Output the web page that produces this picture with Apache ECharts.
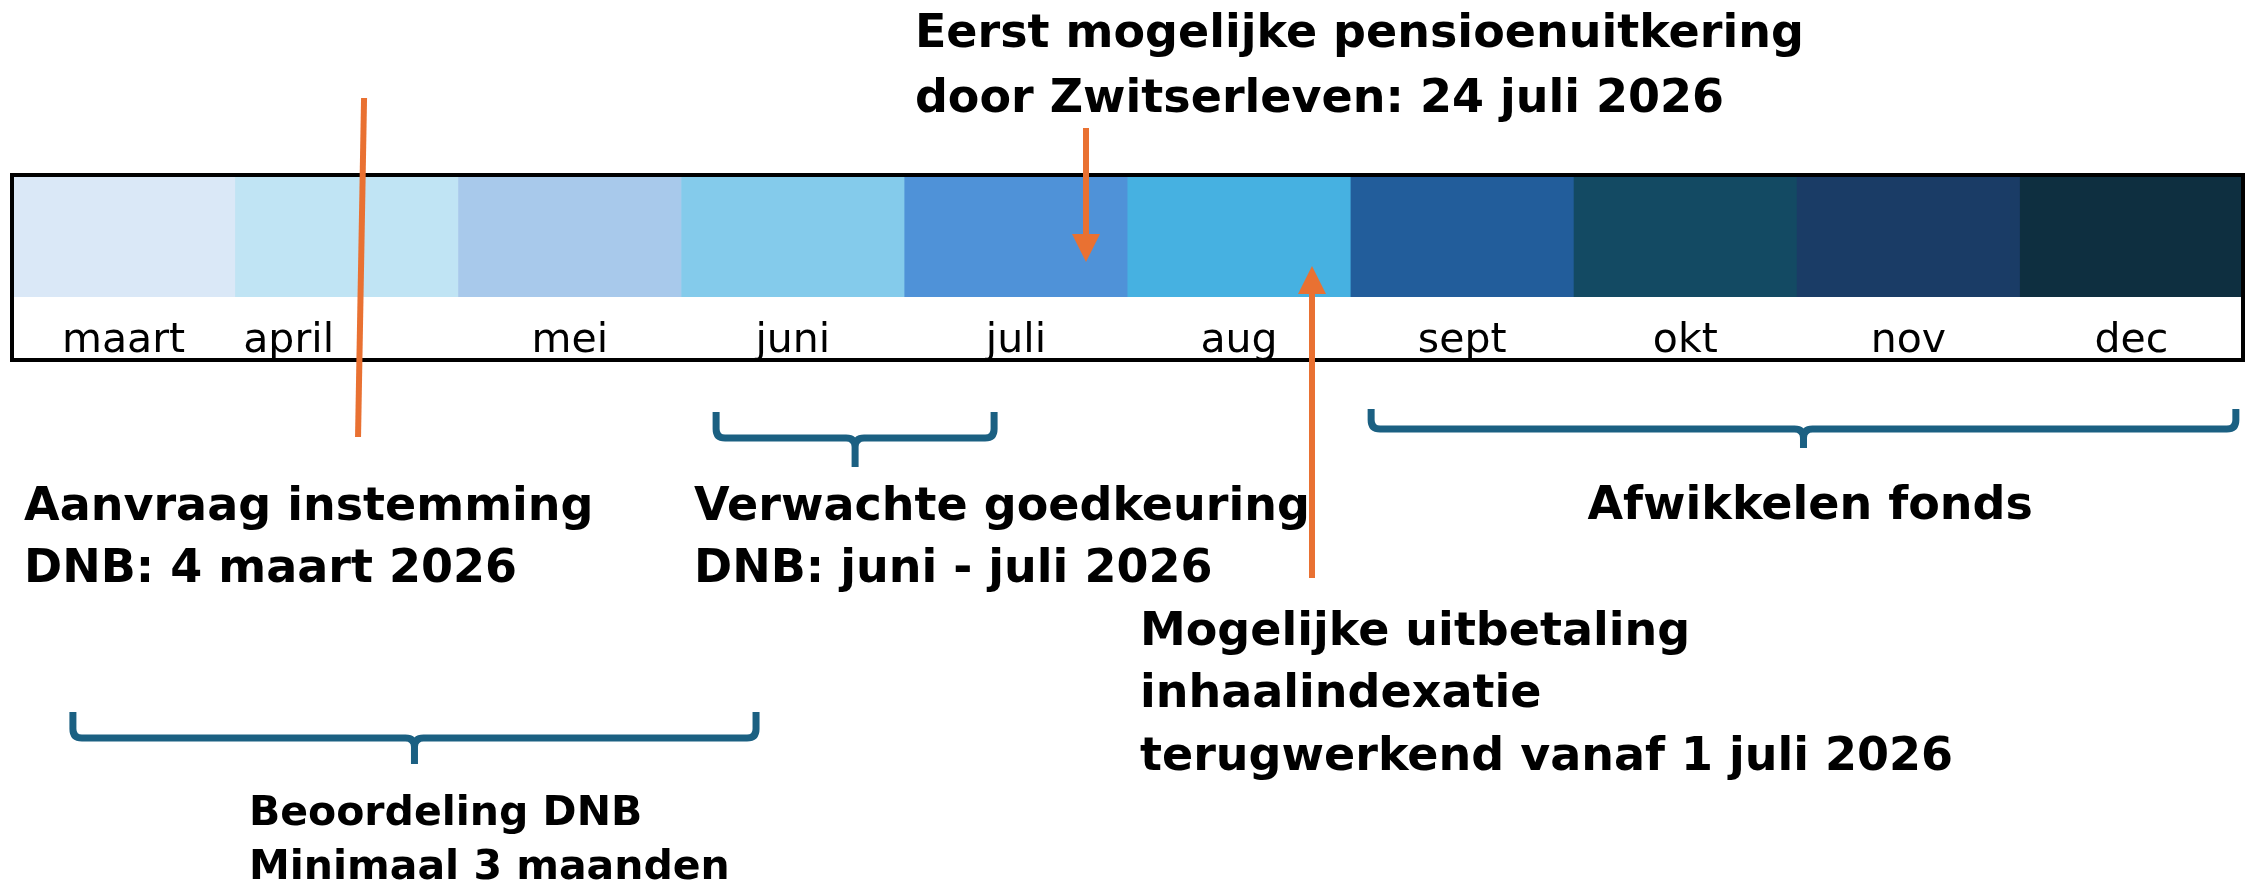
<!DOCTYPE html>
<html>
<head>
<meta charset="utf-8">
<script src="https://cdn.jsdelivr.net/npm/echarts@6/dist/echarts.min.js"></script>
<style>
html, body { margin: 0; padding: 0; background: #fff; }
#main { width: 2257px; height: 882px; }
</style>
</head>
<body>
<div id="main"></div>
<script>
// maanden op de tijdlijn (elk één maand breed)
var months = ['maart', 'april', 'mei', 'juni', 'juli', 'aug', 'sept', 'okt', 'nov', 'dec'];
var monthStart = [0, 1, 2, 3, 4, 5, 6, 7, 8, 9];
var monthColors = ['#dae8f7', '#c0e4f4', '#a8c9eb', '#84cbeb', '#4f92d8', '#46b1e1', '#225d9b', '#134a63', '#1a3c66', '#0e2f40'];

// teksten bij de tijdlijn
var notes = [
    ['Eerst mogelijke pensioenuitkering', 'door Zwitserleven: 24 juli 2026'],
    ['Aanvraag instemming', 'DNB: 4 maart 2026'],
    ['Verwachte goedkeuring', 'DNB: juni - juli 2026'],
    ['Afwikkelen fonds'],
    ['Mogelijke uitbetaling', 'inhaalindexatie', 'terugwerkend vanaf 1 juli 2026'],
    ['Beoordeling DNB', 'Minimaal 3 maanden']
];

// ---- opmaak (x in maanden, y in pixels van de overlay) ----
var noteLayout = [
    { x: 4.047, base: 45, lh: 65, size: 46, align: 'left' },
    { x: 0.054, base: 518, lh: 62, size: 46, align: 'left' },
    { x: 3.057, base: 518, lh: 62, size: 46, align: 'left' },
    { x: 8.06, base: 517, lh: 62, size: 46, align: 'center' },
    { x: 5.056, base: 643, lh: 62.5, size: 46, align: 'left' },
    { x: 1.062, base: 823, lh: 54, size: 41, align: 'left' }
];
var markers = [
    { x1: 1.578, y1: 98, x2: 1.551, y2: 437, head: false },
    { x1: 4.814, y1: 128, x2: 4.814, y2: 262, head: true },
    { x1: 5.827, y1: 578, x2: 5.827, y2: 266, head: true }
];
var braces = [
    { x1: 3.156, x2: 4.402, top: 412, line: 438, tip: 467 },
    { x1: 6.092, x2: 9.968, top: 409, line: 429, tip: 448 },
    { x1: 0.273, x2: 3.335, top: 712, line: 738, tip: 764 }
];
var labelDx = { 1: -0.26 };
var orange = '#e97132';
var braceColor = '#1b6082';

var myChart = echarts.init(document.getElementById('main'));

function idx(arr) {
    return arr.map(function (d, i) { return [i, 0]; });
}

var option = {
    animation: false,
    grid: [
        { left: 12, right: 14, top: 175, height: 185 },
        { left: 12, right: 14, top: 0, bottom: 0 }
    ],
    xAxis: [
        { type: 'value', gridIndex: 0, min: 0, max: 10, show: false },
        { type: 'value', gridIndex: 1, min: 0, max: 10, show: false }
    ],
    yAxis: [
        { type: 'value', gridIndex: 0, min: -0.516, max: 1, show: false },
        { type: 'value', gridIndex: 1, min: 0, max: 882, inverse: true, show: false }
    ],
    series: [{
        // maandvakken + maandnamen
        type: 'custom',
        xAxisIndex: 0,
        yAxisIndex: 0,
        z: 1,
        data: monthStart.map(function (s, i) { return [s, 1]; }),
        renderItem: function (params, api) {
            var i = params.dataIndex;
            var s = api.value(0);
            var p0 = api.coord([s, api.value(1)]);
            var p1 = api.coord([s + 1, 0]);
            var lab = api.coord([s + 0.5 + (labelDx[i] || 0), -0.36]);
            return {
                type: 'group',
                children: [{
                    type: 'rect',
                    shape: { x: p0[0], y: p0[1], width: p1[0] - p0[0] + 0.6, height: p1[1] - p0[1] },
                    style: { fill: monthColors[i] }
                }, {
                    type: 'text',
                    x: lab[0],
                    y: lab[1],
                    style: {
                        text: months[i],
                        font: '41px "DejaVu Sans"',
                        fill: '#000',
                        align: 'center',
                        verticalAlign: 'middle'
                    }
                }]
            };
        }
    }, {
        // kader
        type: 'custom',
        xAxisIndex: 0,
        yAxisIndex: 0,
        z: 2,
        data: [[0, 1]],
        renderItem: function (params, api) {
            var p0 = api.coord([0, 1]);
            var p1 = api.coord([10, -0.516]);
            return {
                type: 'rect',
                shape: { x: p0[0], y: p0[1], width: p1[0] - p0[0], height: p1[1] - p0[1] },
                style: { fill: 'none', stroke: '#000', lineWidth: 4 }
            };
        }
    }, {
        // accolades
        type: 'custom',
        xAxisIndex: 1,
        yAxisIndex: 1,
        z: 3,
        data: idx(braces),
        renderItem: function (params, api) {
            var b = braces[params.dataIndex];
            var l = api.coord([b.x1, b.top]);
            var r = api.coord([b.x2, b.top]);
            var c = api.coord([(b.x1 + b.x2) / 2, b.line]);
            var yl = c[1];
            var yt = api.coord([0, b.tip])[1];
            var k = 9;
            var d = 'M' + l[0] + ' ' + l[1] +
                ' L' + l[0] + ' ' + (yl - k) +
                ' Q' + l[0] + ' ' + yl + ' ' + (l[0] + k) + ' ' + yl +
                ' L' + (c[0] - k) + ' ' + yl +
                ' Q' + c[0] + ' ' + yl + ' ' + c[0] + ' ' + (yl + k) +
                ' L' + c[0] + ' ' + yt +
                ' M' + c[0] + ' ' + (yl + k) +
                ' Q' + c[0] + ' ' + yl + ' ' + (c[0] + k) + ' ' + yl +
                ' L' + (r[0] - k) + ' ' + yl +
                ' Q' + r[0] + ' ' + yl + ' ' + r[0] + ' ' + (yl - k) +
                ' L' + r[0] + ' ' + r[1];
            return {
                type: 'path',
                shape: { pathData: d },
                style: { fill: 'none', stroke: braceColor, lineWidth: 7, lineJoin: 'round' }
            };
        }
    }, {
        // oranje lijn en pijlen
        type: 'custom',
        xAxisIndex: 1,
        yAxisIndex: 1,
        z: 4,
        data: idx(markers),
        renderItem: function (params, api) {
            var m = markers[params.dataIndex];
            var a = api.coord([m.x1, m.y1]);
            var b = api.coord([m.x2, m.y2]);
            var st = { stroke: orange, lineWidth: 6 };
            if (!m.head) {
                return { type: 'line', shape: { x1: a[0], y1: a[1], x2: b[0], y2: b[1] }, style: st };
            }
            var dir = b[1] > a[1] ? 1 : -1;
            var base = b[1] - dir * 28;
            return {
                type: 'group',
                children: [{
                    type: 'line',
                    shape: { x1: a[0], y1: a[1], x2: b[0], y2: base },
                    style: st
                }, {
                    type: 'polygon',
                    shape: { points: [[b[0] - 14, base], [b[0] + 14, base], [b[0], b[1]]] },
                    style: { fill: orange }
                }]
            };
        }
    }, {
        // teksten
        type: 'custom',
        xAxisIndex: 1,
        yAxisIndex: 1,
        z: 5,
        data: idx(notes),
        renderItem: function (params, api) {
            var n = noteLayout[params.dataIndex];
            var top = n.base - n.lh / 2 - 0.22 * n.size;
            var p = api.coord([n.x, top]);
            return {
                type: 'text',
                x: p[0],
                y: p[1],
                style: {
                    text: notes[params.dataIndex].join('\n'),
                    font: 'bold ' + n.size + 'px "DejaVu Sans"',
                    fill: '#000',
                    align: n.align,
                    verticalAlign: 'top',
                    lineHeight: n.lh
                }
            };
        }
    }]
};
myChart.setOption(option);
</script>
</body>
</html>
